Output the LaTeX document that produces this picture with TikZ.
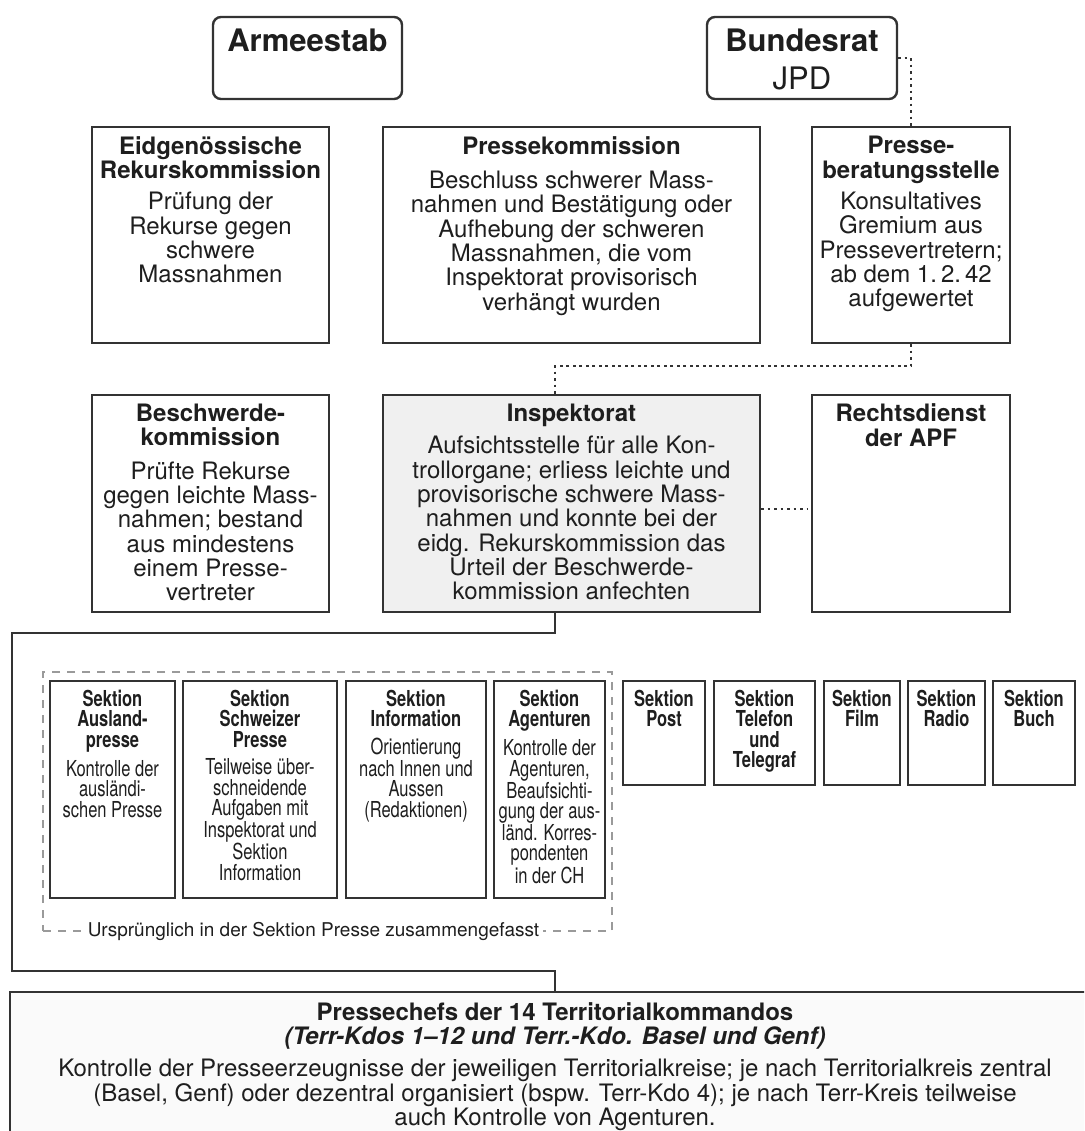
\documentclass[tikz,border=0pt]{standalone}
\usepackage{fontspec}
\setmainfont{TeX Gyre Heros}
\newfontfamily\condfont[FakeStretch=0.75]{TeX Gyre Heros}
\usepackage{tikz}
\definecolor{boxline}{HTML}{333333}
\definecolor{groupline}{HTML}{9A9A9A}
\definecolor{inkgray}{HTML}{1E1E1E}

\begin{document}
\begin{tikzpicture}[
    x=1pt,
    y=-1pt,
    orgbox/.style={
        draw=boxline,
        line width=2.4pt,
        inner sep=0pt
    },
    headbox/.style={
        orgbox,
        rounded corners=8pt
    },
    boxtext/.style={
        align=center,
        inner sep=0pt,
        text=inkgray,
        font=\fontsize{24}{24.3}\selectfont
    },
    headtext/.style={
        boxtext,
        font=\fontsize{31}{38}\selectfont
    },
    sektext/.style={
        boxtext,
        font=\condfont\fontsize{22}{20.5}\selectfont
    },
    conn/.style={
        draw=boxline,
        line width=2.4pt
    },
    dotline/.style={
        conn,
        dash pattern=on 2.7pt off 3.8pt
    },
    groupbox/.style={
        draw=groupline,
        line width=1.1pt,
        dash pattern=on 8pt off 7pt
    },
    grouplabel/.style={
        boxtext,
        fill=white,
        inner xsep=4pt,
        inner ysep=2pt,
        font=\fontsize{19}{20}\selectfont
    }
]

\useasboundingbox (0,0) rectangle (1084,1131);
\clip (0,0) rectangle (1084,1131);


% top level
\node[headbox, minimum width=189, minimum height=82] (arm) at (307.5,58) {};
\node[headtext, below=12.5pt] (armtxt) at (arm.north) {\textbf{Armeestab}};

\node[headbox, minimum width=190, minimum height=82] (bund) at (802,58) {};
\node[headtext, below=12.5pt] (bundtxt) at (bund.north) {\textbf{Bundesrat}\\JPD};


% commissions
\node[orgbox, minimum width=237, minimum height=216] (eidg) at (210.5,235) {};
\node[boxtext, below=10.5pt] (eidgtxt) at (eidg.north)
    {\textbf{Eidgenössische}\\\textbf{Rekurskommission}\\[7pt]
     Prüfung der\\Rekurse gegen\\schwere\\Massnahmen};

\node[orgbox, minimum width=377, minimum height=216] (komm) at (571.5,235) {};
\node[boxtext, below=10.5pt] (kommtxt) at (komm.north)
    {\textbf{Pressekommission}\\[10pt]
     Beschluss schwerer Mass-\\nahmen und Bestätigung oder\\Aufhebung der schweren\\
     Massnahmen, die vom\\Inspektorat provisorisch\\verhängt wurden};

\node[orgbox, minimum width=198, minimum height=216] (berat) at (911,235) {};
\node[boxtext, below=10.5pt] (berattxt) at (berat.north)
    {\textbf{Presse-}\\\textbf{beratungsstelle}\\[7pt]
     Konsultatives\\Gremium aus\\Pressevertretern;\\ab dem 1.\,2.\,42\\aufgewertet};


% inspection level
\node[orgbox, minimum width=237, minimum height=217] (besch) at (210.5,503.5) {};
\node[boxtext, below=10pt] (beschtxt) at (besch.north)
    {\textbf{Beschwerde-}\\\textbf{kommission}\\[9pt]
     Prüfte Rekurse\\gegen leichte Mass-\\nahmen; bestand\\aus mindestens\\
     einem Presse-\\vertreter};

\node[orgbox, fill=gray!12, minimum width=377, minimum height=217] (insp) at (571.5,503.5) {};
\node[boxtext, below=10pt] (insptxt) at (insp.north)
    {\textbf{Inspektorat}\\[8pt]
     Aufsichtsstelle für alle Kon-\\trollorgane; erliess leichte und\\
     provisorische schwere Mass-\\nahmen und konnte bei der\\
     eidg. Rekurskommission das\\Urteil der Beschwerde-\\kommission anfechten};

\node[orgbox, minimum width=198, minimum height=217] (rechts) at (911,503.5) {};
\node[boxtext, below=10pt] (rechtstxt) at (rechts.north)
    {\textbf{Rechtsdienst}\\\textbf{der APF}};


% sections
\node[groupbox, minimum width=569, minimum height=259] (grp) at (327.5,801.5) {};
\node[grouplabel] (grplbl) at ([xshift=-14pt]grp.south)
    {Ursprünglich in der Sektion Presse zusammengefasst};

\node[orgbox, minimum width=125, minimum height=217] (sausl) at (112.5,789.5) {};
\node[sektext, below=10pt] (sausltxt) at (sausl.north)
    {\textbf{Sektion}\\\textbf{Ausland-}\\\textbf{presse}\\[7pt]
     Kontrolle der\\ausländi-\\schen Presse};

\node[orgbox, minimum width=154, minimum height=217] (sschw) at (260,789.5) {};
\node[sektext, below=10pt] (sschwtxt) at (sschw.north)
    {\textbf{Sektion}\\\textbf{Schweizer}\\\textbf{Presse}\\[7pt]
     Teilweise über-\\schneidende\\Aufgaben mit\\Inspektorat und\\Sektion\\Information};

\node[orgbox, minimum width=140, minimum height=217] (sinfo) at (416,789.5) {};
\node[sektext, below=10pt] (sinfotxt) at (sinfo.north)
    {\textbf{Sektion}\\\textbf{Information}\\[7pt]
     Orientierung\\nach Innen und\\Aussen\\(Redaktionen)};

\node[orgbox, minimum width=111, minimum height=217] (sagen) at (549.5,789.5) {};
\node[sektext, below=10pt] (sagentxt) at (sagen.north)
    {\textbf{Sektion}\\\textbf{Agenturen}\\[7pt]
     Kontrolle der\\Agenturen,\\Beaufsichti-\\gung der aus-\\länd. Korres-\\pondenten\\in der CH};

\node[orgbox, minimum width=82, minimum height=104] (spost) at (664,733) {};
\node[sektext, below=10pt] (sposttxt) at (spost.north)
    {\textbf{Sektion}\\\textbf{Post}};

\node[orgbox, minimum width=101, minimum height=104] (stel) at (764.5,733) {};
\node[sektext, below=10pt] (steltxt) at (stel.north)
    {\textbf{Sektion}\\\textbf{Telefon}\\\textbf{und}\\\textbf{Telegraf}};

\node[orgbox, minimum width=76, minimum height=104] (sfilm) at (862,733) {};
\node[sektext, below=10pt] (sfilmtxt) at (sfilm.north)
    {\textbf{Sektion}\\\textbf{Film}};

\node[orgbox, minimum width=77, minimum height=104] (sradio) at (946.5,733) {};
\node[sektext, below=10pt] (sradiotxt) at (sradio.north)
    {\textbf{Sektion}\\\textbf{Radio}};

\node[orgbox, minimum width=82, minimum height=104] (sbuch) at (1034,733) {};
\node[sektext, below=10pt] (sbuchtxt) at (sbuch.north)
    {\textbf{Sektion}\\\textbf{Buch}};


% territorial press chiefs
\node[orgbox, fill=gray!4, minimum width=1090, minimum height=160] (pchef) at (555,1072) {};
\node[boxtext, below=11.5pt] (pcheftxt) at (pchef.north)
    {\textbf{Pressechefs der 14 Territorialkommandos}\\
     \textbf{\textit{(Terr-Kdos 1–12 und Terr.-Kdo. Basel und Genf)}}\\[8pt]
     Kontrolle der Presseerzeugnisse der jeweiligen Territorialkreise; je nach Territorialkreis zentral\\
     (Basel, Genf) oder dezentral organisiert (bspw. Terr-Kdo 4); je nach Terr-Kreis teilweise\\
     auch Kontrolle von Agenturen.};


% connectors
\coordinate (busL) at (12,633);
\coordinate (busR) at (12,971);

\draw[conn] (insp.south -| pchef.north) |- (busL) -- (busR) -| (pchef.north);

\draw[dotline] (bund.east) -| (berat.north);
\draw[dotline] (berat.south) -- ++(0,22) -| (insp.north -| pchef.north);
\draw[dotline, shorten >=4pt] ([yshift=-5.5pt]insp.east) -- ([yshift=-5.5pt]rechts.west);

\end{tikzpicture}
\end{document}
